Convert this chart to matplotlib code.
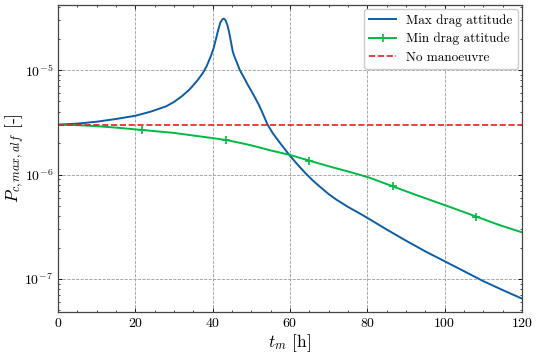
import matplotlib
matplotlib.use("Agg")
import matplotlib.pyplot as plt
import numpy as np
from matplotlib.ticker import MultipleLocator, LogLocator, NullFormatter

plt.rcParams.update({
    "font.family": "serif",
    "font.serif": ["cmr10", "DejaVu Serif"],
    "mathtext.fontset": "cm",
    "axes.formatter.use_mathtext": True,
    "axes.unicode_minus": False,
    "font.size": 10,
})

# Max drag attitude
t_max = [0, 5, 10, 15, 20, 24, 28, 30, 32, 34, 36, 37.5, 38.5, 39.5, 40.2, 40.8,
         41.4, 42, 42.5, 42.9, 43.3, 43.8, 44.3, 44.8, 45.2, 45.6, 46.3, 47, 48,
         49, 50, 51, 52, 53, 54.2, 55.5, 57, 58.5, 60, 62, 64, 66, 68, 70, 72, 75,
         78, 80, 85, 90, 95, 100, 105, 110, 115, 120]
p_max = [3.0e-6, 3.07e-6, 3.2e-6, 3.4e-6, 3.65e-6, 4.0e-6, 4.5e-6, 4.95e-6, 5.6e-6,
         6.5e-6, 7.9e-6, 9.4e-6, 1.1e-5, 1.35e-5, 1.6e-5, 1.95e-5,
         2.4e-5, 2.85e-5, 3.05e-5, 3.1e-5, 3.0e-5, 2.7e-5, 2.25e-5, 1.8e-5, 1.5e-5,
         1.35e-5, 1.17e-5, 1.0e-5, 8.6e-6,
         7.3e-6, 6.3e-6, 5.4e-6, 4.6e-6, 3.8e-6, 3.0e-6, 2.5e-6, 2.1e-6, 1.78e-6,
         1.51e-6, 1.24e-6, 1.03e-6, 8.7e-7, 7.5e-7, 6.5e-7, 5.75e-7, 4.9e-7,
         4.25e-7, 3.85e-7, 2.98e-7, 2.33e-7, 1.84e-7, 1.48e-7, 1.19e-7, 9.55e-8,
         7.85e-8, 6.5e-8]

# Min drag attitude
t_min = [0, 5, 10, 15, 21.6, 25, 30, 35, 40, 43.4, 47, 50, 55, 60, 64.9, 70, 75,
         80.3, 86.6, 93, 100, 108.2, 114, 120]
p_min = [3.0e-6, 2.97e-6, 2.9e-6, 2.81e-6, 2.67e-6, 2.6e-6, 2.5e-6, 2.36e-6,
         2.23e-6, 2.14e-6, 2.01e-6, 1.9e-6, 1.7e-6, 1.54e-6, 1.36e-6, 1.2e-6,
         1.07e-6, 9.4e-7, 7.7e-7, 6.3e-7, 5.1e-7, 3.96e-7, 3.3e-7, 2.8e-7]
marker_t = [0, 21.6, 43.4, 64.9, 86.6, 108.2]

# No manoeuvre
t_none = [0, 120]
p_none = [3.0e-6, 3.0e-6]

fig = plt.figure(figsize=(5.38, 3.55), dpi=100)
ax = fig.add_axes([0.108, 0.121, 0.862, 0.865])

ax.plot(t_max, p_max, color="#0C5DA5", lw=1.4, label="Max drag attitude")
mk = [t_min.index(v) for v in marker_t]
ax.plot(t_min, p_min, color="#00B945", lw=1.4, marker="+", markersize=6,
        markeredgewidth=1.2, markevery=mk, label="Min drag attitude")
ax.plot(t_none, p_none, color="#EE1C1C", lw=1.2, ls="--", label="No manoeuvre")

ax.set_yscale("log")
ax.set_xlim(0, 120)
ax.set_ylim(4.83e-8, 4.19e-5)
ax.xaxis.set_major_locator(MultipleLocator(20))
ax.xaxis.set_minor_locator(MultipleLocator(5))
ax.yaxis.set_major_locator(LogLocator(base=10, numticks=10))
ax.yaxis.set_minor_locator(LogLocator(base=10, subs=np.arange(2, 10), numticks=20))
ax.yaxis.set_minor_formatter(NullFormatter())

ax.tick_params(which="both", direction="in", top=True, right=True)
ax.tick_params(which="major", length=3, width=0.6)
ax.tick_params(which="minor", length=1.6, width=0.5)
for s in ax.spines.values():
    s.set_linewidth(0.9)
    s.set_color("#444444")

ax.grid(True, which="major", ls="--", color="#9a9a9a", lw=0.6)

ax.set_xlabel(r"$t_m$ [h]", fontsize=12.5)
ax.set_ylabel(r"$P_{c,max,alf}$ [-]", fontsize=12.5)
ax.yaxis.set_label_coords(-0.067, 0.5)
ax.xaxis.set_label_coords(0.5, -0.065)

leg = ax.legend(loc="upper right", fontsize=9.5, frameon=True, fancybox=True,
                edgecolor="#cccccc", framealpha=1.0, handlelength=2.0,
                labelspacing=0.45, borderaxespad=0.3)

fig.savefig("out.png", dpi=100)
